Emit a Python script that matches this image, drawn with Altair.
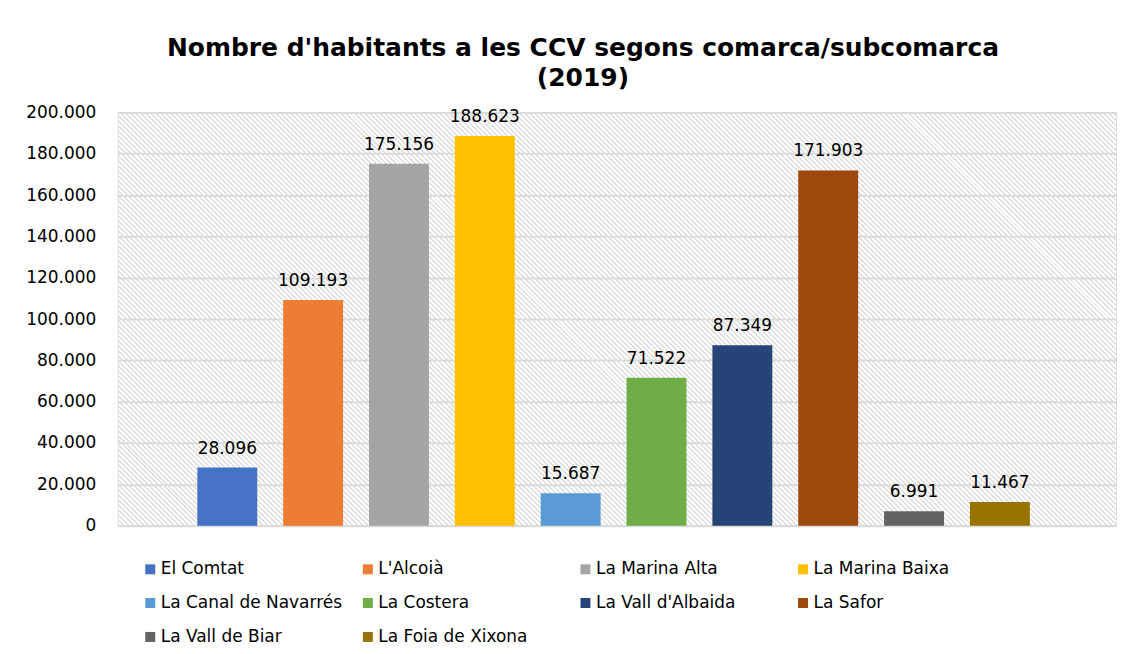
import altair as alt
import pandas as pd

names = ["El Comtat", "L'Alcoià", "La Marina Alta", "La Marina Baixa",
         "La Canal de Navarrés", "La Costera", "La Vall d'Albaida", "La Safor",
         "La Vall de Biar", "La Foia de Xixona"]
values = [28096, 109193, 175156, 188623, 15687, 71522, 87349, 171903, 6991, 11467]
colors = ["#4472C4", "#ED7D31", "#A5A5A5", "#FFC000", "#5B9BD5", "#70AD47",
          "#264478", "#9E480E", "#636363", "#997300"]
y_ticks = [0, 20000, 40000, 60000, 80000, 100000, 120000, 140000, 160000, 180000, 200000]

W, H = 1000, 414
FONT = "DejaVu Sans"

df = pd.DataFrame({"comarca": names, "habitants": values})

# hatch background (decoration): 45deg stripes via a linear gradient
k = H / W
a = (1 + k) / (1 + k * k)
dt = (5.0 / 2 ** 0.5) / ((W + H) / 2 ** 0.5)
g = 0.4 * dt
stops = []
i = 0
while i * dt < 1.0:
    o = i * dt
    c1 = "#dedede"
    c0 = "rgba(255,255,255,0)"
    stops.append(alt.GradientStop(offset=round(o, 7), color=c1))
    stops.append(alt.GradientStop(offset=round(min(o + g, 1.0), 7), color=c1))
    stops.append(alt.GradientStop(offset=round(min(o + g, 1.0), 7), color=c0))
    stops.append(alt.GradientStop(offset=round(min(o + dt, 1.0), 7), color=c0))
    i += 1
grad = alt.LinearGradient(gradient="linear", stops=stops, x1=0, y1=1, x2=a, y2=1 - k * a)

hatch = alt.Chart(alt.Data(values=[{"k": 0}])).mark_rect(fill=grad, strokeWidth=0).encode(
    x=alt.value(0), x2=alt.value("width"), y=alt.value(0), y2=alt.value("height")
)

xenc = alt.X("comarca:N", sort=names, axis=None,
             scale=alt.Scale(paddingInner=0.302, paddingOuter=0.965, align=0.48))
yenc = alt.Y("habitants:Q", scale=alt.Scale(domain=[0, 200000], nice=False),
             axis=alt.Axis(values=y_ticks, format=",.0f", title=None, domain=False,
                           ticks=False, labelPadding=22, labelFontSize=17,
                           labelColor="#000", labelFont=FONT,
                           gridColor="#d9d9d9", gridWidth=2))

base = alt.Chart(df)
bars = base.mark_bar().encode(
    x=xenc, y=yenc,
    color=alt.Color("comarca:N",
                    scale=alt.Scale(domain=names, range=colors),
                    legend=alt.Legend(orient="none", legendX=24, legendY=449,
                                      direction="horizontal", gridAlign="all",
                                      columns=4, title=None,
                                      symbolType="square", symbolSize=100,
                                      symbolStrokeWidth=0, labelFontSize=17,
                                      labelFont=FONT, labelColor="#000",
                                      labelLimit=400, labelOffset=2,
                                      rowPadding=16, columnPadding=17, padding=0)),
)
labels = base.mark_text(baseline="bottom", dy=-10, fontSize=17, font=FONT, color="#000").encode(
    x=xenc, y=yenc, text=alt.Text("habitants:Q", format=",.0f")
)

chart = alt.layer(hatch, bars, labels).properties(
    width=W, height=H,
    autosize=alt.AutoSizeParams(type="none"),
    padding={"left": 110, "top": 104, "right": 2, "bottom": 120},
    background="white",
    title=alt.TitleParams(text=["Nombre d'habitants a les CCV segons comarca/subcomarca", "(2019)"],
                          font=FONT, fontSize=25, fontWeight="bold", color="#000",
                          lineHeight=30, anchor="middle", dx=-34, offset=12),
).configure_view(stroke="#d9d9d9", strokeWidth=2).configure(
    locale=alt.Locale(number=alt.NumberLocale(decimal=",", thousands=".", grouping=[3],
                                              currency=["", " €"]))
)

chart.save("out.html", embed_options={"renderer": "svg", "actions": False})
